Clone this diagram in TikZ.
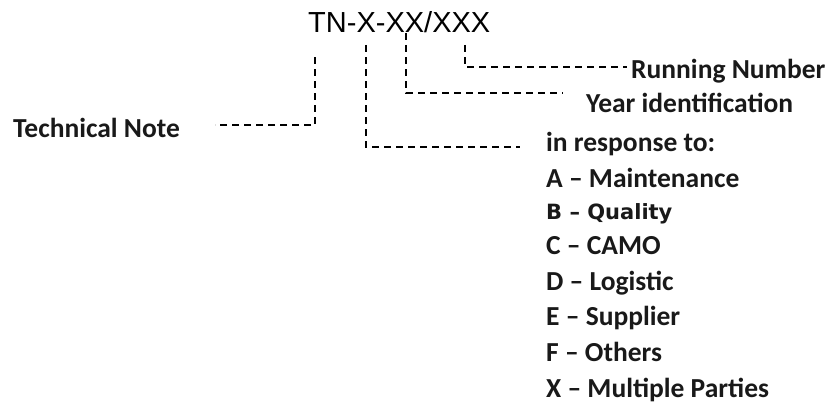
\documentclass[tikz,border=0pt]{standalone}
\usepackage{fontspec}
\setmainfont{Carlito}
\newfontfamily\codefont{Liberation Sans}
\newfontfamily\widefont{DejaVu Sans}
\usetikzlibrary{positioning}

\begin{document}
\begin{tikzpicture}[x=1pt,y=-1pt,
    lbl/.style={anchor=base west,inner sep=0pt,text=black!90,font=\bfseries\fontsize{27.5}{32}\selectfont},
    lead/.style={line width=1.6pt,dash pattern=on 7pt off 5pt}]
    \useasboundingbox (0,0) rectangle (834,404);
    \node[anchor=base west,inner sep=0pt,font=\codefont\fontsize{29}{34}\selectfont] (code) at (308,33) {TN-X-XX/XXX};
    \node[lbl] (tn) at (13,137) {Technical Note};
    \node[lbl] (run) at (631,78) {Running Number};
    \node[lbl] (year) at (586,112) {Year identification};
    \node[lbl] (resp) at (546,151) {in response to:};
    % the letters
    \node[lbl] (pA) at (546,187) {A – Maintenance};
    \node[lbl,font=\widefont\bfseries\fontsize{21}{24}\selectfont] (pB) at (546,219) {B – Quality};
    \foreach \k/\t [count=\i] in {C/CAMO,D/Logistic,E/Supplier,F/Others,X/Multiple Parties}
        \node[lbl] (p\k) at (546,218.5+35.8*\i) {\k\ – \t};
    % dashed leaders
    \coordinate (tnTop) at (315,57);
    \coordinate (tnEnd) at (215,125);
    \coordinate (respTop) at (366,45);
    \coordinate (respEnd) at (520,147);
    \coordinate (yearTop) at (406,33);
    \coordinate (yearEnd) at (563,93);
    \coordinate (runTop) at (465,45);
    \coordinate (runEnd) at (627,67);
    \draw[lead] (tnTop) |- (tnEnd);
    \draw[lead] (respTop) |- (respEnd);
    \draw[lead] (yearTop) |- (yearEnd);
    \draw[lead] (runTop) |- (runEnd);
\end{tikzpicture}
\end{document}
